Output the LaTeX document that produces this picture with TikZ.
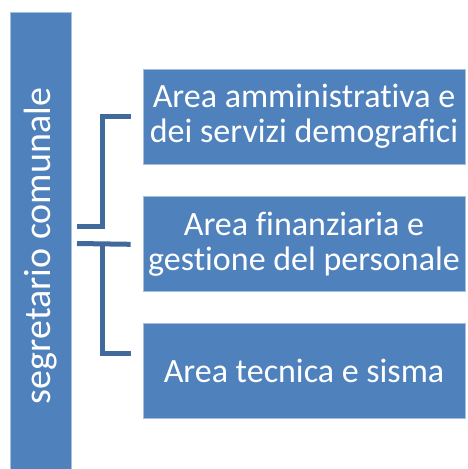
\documentclass[tikz,border=0pt]{standalone}
\usepackage{fontspec}
\setmainfont{Carlito}[Ligatures=NoCommon]
\usetikzlibrary{positioning}
\definecolor{areablue}{HTML}{4F81BD}
\definecolor{areaedge}{HTML}{A7BFDE}
\definecolor{linkblue}{HTML}{40699C}

\begin{document}
\begin{tikzpicture}[
    x=1pt, y=-1pt,
    box/.style={
      draw=areaedge, line width=0.8pt, fill=areablue, text=white,
      align=center, minimum width=322pt, minimum height=95pt, inner sep=0pt,
      font=\fontsize{34}{35}\selectfont
    },
    bar/.style={
      draw=areaedge, line width=0.8pt, fill=areablue, text=white,
      rotate=90, minimum width=457pt, minimum height=61pt, inner sep=0pt,
      font=\fontsize{38}{40}\selectfont
    },
    conn/.style={line width=5pt, linkblue},
  ]
    \useasboundingbox (0,0) rectangle (467,469);
    \node[bar] (seg) at (40.5,240.5) {segretario comunale\hspace*{11pt}};
    \node[box] (a1) at (304,116.5) {Area amministrativa e\\dei servizi demografici};
    \node[box, below=32pt of a1] (a2) {Area finanziaria e\\gestione del personale};
    \node[box, below=31pt of a2] (a3) {Area tecnica e sisma};
    \coordinate (j1) at (77,226);
    \coordinate (j2) at (77,243.5);
    \draw[conn] (j1) -- ++(25,0) |- ([xshift=-12pt]a1.west);
    \draw[conn] (j2) -- ([xshift=-12pt]a2.west);
    \draw[conn] (j2) ++(25,0) |- ([xshift=-12pt, yshift=17.5pt]a3.west);
  \end{tikzpicture}
\end{document}
